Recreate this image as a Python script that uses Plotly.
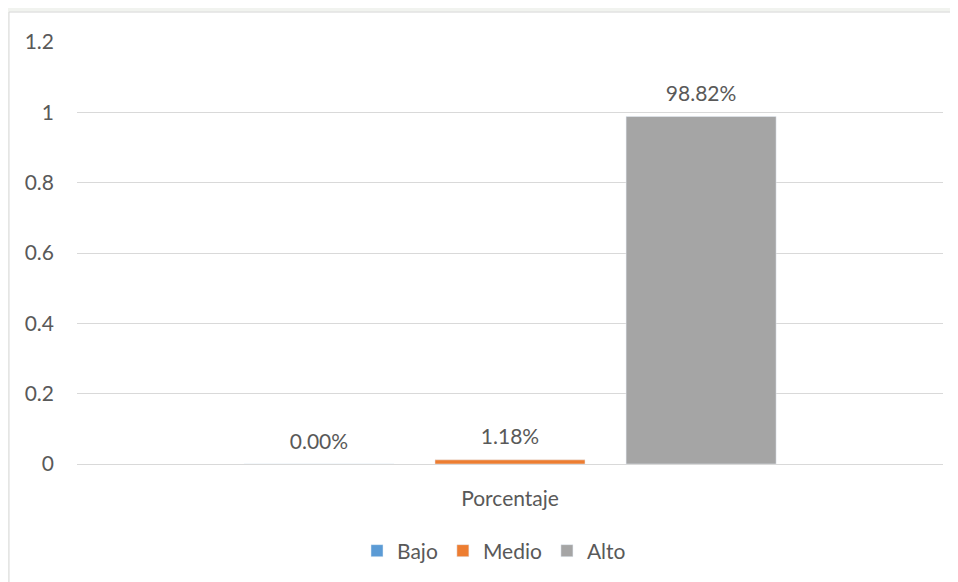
import plotly.graph_objects as go

categories = ["Porcentaje"]
series_names = ["Bajo", "Medio", "Alto"]
series_values = [[0.0], [0.0118], [0.9882]]
series_colors = ["#5B9BD5", "#ED7D31", "#A5A5A5"]
y_ticks = [0, 0.2, 0.4, 0.6, 0.8, 1, 1.2]

FONT = "Lato, 'Open Sans', sans-serif"
GRAY = "#595959"
FS = 21

fig = go.Figure()
for name, vals, col in zip(series_names, series_values, series_colors):
    fig.add_trace(go.Bar(
        x=categories, y=vals, name=name, marker_color=col,
        texttemplate=f"<span style='font-size:{FS}px'>%{{y:.2%}}</span><br> ",
        textposition="outside",
        textfont=dict(family=FONT, size=8, color=GRAY),
        cliponaxis=False,
    ))

# page is offset by the 8px body margin
OFF = 8
W, H = 958 - OFF, 582 - OFF
L, R, T, B = 77 - OFF, 15, 42 - OFF, 117
pw, ph = W - L - R, H - T - B

def px_x(p):
    return (p - OFF - L) / pw

def px_y(p):
    return (H - B - (p - OFF)) / ph

fig.add_shape(type="rect", xref="paper", yref="paper",
              x0=px_x(9), x1=px_x(970), y0=px_y(590), y1=px_y(12),
              line=dict(color="#d9d9d9", width=1), fillcolor="white", layer="below")

fig.update_layout(
    width=W, height=H,
    margin=dict(l=L, r=R, t=T, b=B),
    barmode="group", bargap=0.338, bargroupgap=0.215,
    paper_bgcolor="#f1f3ef", plot_bgcolor="rgba(0,0,0,0)",
    font=dict(family=FONT, size=FS, color=GRAY),
    showlegend=True,
    legend=dict(orientation="h", x=px_x(494), xanchor="center", y=px_y(551), yanchor="middle",
                font=dict(family=FONT, size=FS, color=GRAY), itemwidth=30,
                bgcolor="rgba(0,0,0,0)"),
    xaxis=dict(showgrid=False, showline=False, ticks="", ticklabelstandoff=20,
               tickfont=dict(family=FONT, size=FS, color=GRAY)),
    yaxis=dict(range=[0, 1.2], tickvals=y_ticks, ticktext=[f"{v:g}" for v in y_ticks],
               gridcolor="#d9d9d9", gridwidth=1, zeroline=True, zerolinecolor="#d9d9d9",
               zerolinewidth=1, showline=False, ticks="", ticklabelstandoff=22,
               tickfont=dict(family=FONT, size=FS, color=GRAY)),
)

fig.write_html("out.html")
